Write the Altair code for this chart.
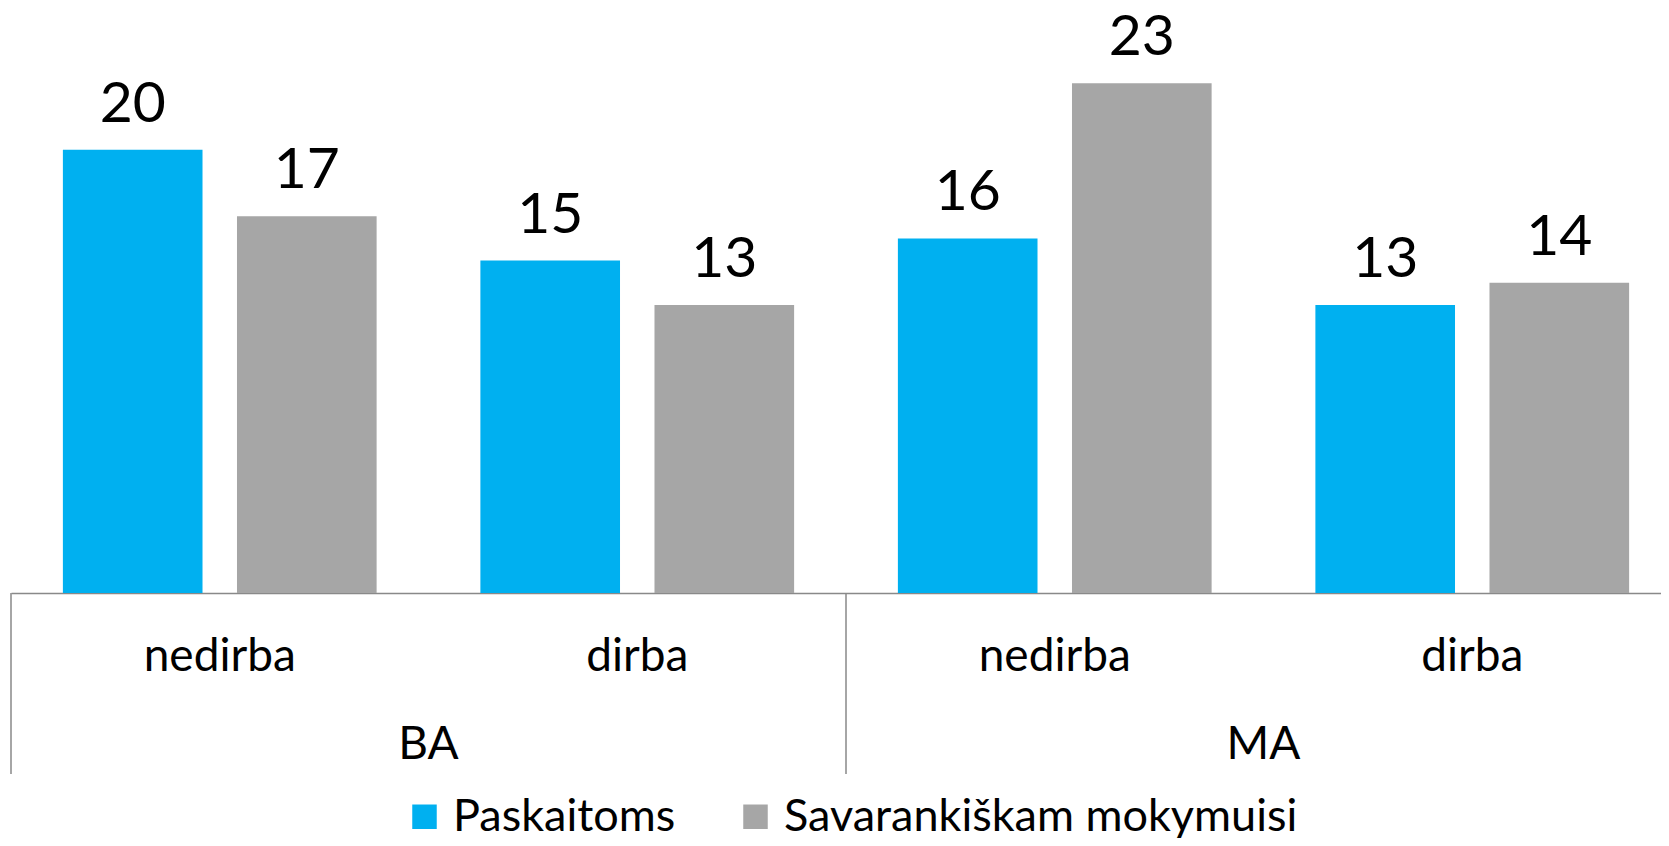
import altair as alt
import pandas as pd

keys = ["BA|nedirba", "BA|dirba", "MA|nedirba", "MA|dirba"]
levels = ["BA", "MA"]
series = ["Paskaitoms", "Savarankiškam mokymuisi"]
paskaitoms = [20, 15, 16, 13]
savarankiskam = [17, 13, 23, 14]
colors = ["#00b0f0", "#a6a6a6"]

rows = []
for k, a, b in zip(keys, paskaitoms, savarankiskam):
    rows.append({"key": k, "series": series[0], "value": a})
    rows.append({"key": k, "series": series[1], "value": b})
df = pd.DataFrame(rows)
gdf = pd.DataFrame({"level": levels})

FONT = "Lato"
W, H = 1650, 585
RANGE = 1670
LINE = "#898989"

x = alt.X("key:N", sort=keys, title=None,
          scale=alt.Scale(paddingInner=0, paddingOuter=0, range=[0, RANGE]),
          axis=alt.Axis(labelExpr="split(datum.value,'|')[1]", ticks=False, tickSize=0,
                        labelFontSize=46, labelFont=FONT, labelColor="black",
                        labelPadding=63, labelBaseline="middle", labelAngle=0,
                        domainColor=LINE, domainWidth=1.5, grid=False))
xo = alt.XOffset("series:N", sort=series,
                 scale=alt.Scale(paddingInner=0.198, paddingOuter=0.298))
y = alt.Y("value:Q", scale=alt.Scale(domain=[0, 26.4], nice=False, zero=True), axis=None)

bars = alt.Chart(df).mark_bar().encode(
    x=x, xOffset=xo, y=y,
    color=alt.Color("series:N", sort=series,
                    scale=alt.Scale(domain=series, range=colors),
                    legend=alt.Legend(title=None, orient="none", direction="horizontal",
                                      legendX=391, legendY=786, symbolType="square",
                                      symbolSize=600, symbolStrokeWidth=0,
                                      labelFontSize=45, labelFont=FONT, labelColor="black",
                                      labelOffset=6, columnPadding=57, labelLimit=1000)),
)
labels = alt.Chart(df).mark_text(fontSize=57, font=FONT, baseline="alphabetic", dy=-28,
                                 color="black").encode(
    x=x, xOffset=xo, y=y, text=alt.Text("value:Q"))

gscale = alt.Scale(paddingInner=0, paddingOuter=0, range=[0, RANGE])
gx = alt.X("level:N", sort=levels, scale=gscale, axis=None)
gtext = alt.Chart(gdf).mark_text(fontSize=46, font=FONT, color="black", baseline="middle").encode(
    x=gx, y=alt.value(737), text="level:N")
grule = alt.Chart(gdf).mark_rule(color=LINE, strokeWidth=1.5).encode(
    x=alt.X("level:N", sort=levels, bandPosition=0, scale=gscale, axis=None),
    y=alt.value(H), y2=alt.value(766))

main = alt.layer(bars, labels)
groups = alt.layer(grule, gtext)

chart = alt.layer(main, groups).resolve_scale(x="independent").properties(
    width=W, height=H,
    autosize=alt.AutoSizeParams(type="none"),
    padding={"left": 3, "top": 0, "right": 0, "bottom": 245},
).configure_view(stroke=None)

chart.save("out.html", embed_options={"renderer": "svg", "actions": False})
